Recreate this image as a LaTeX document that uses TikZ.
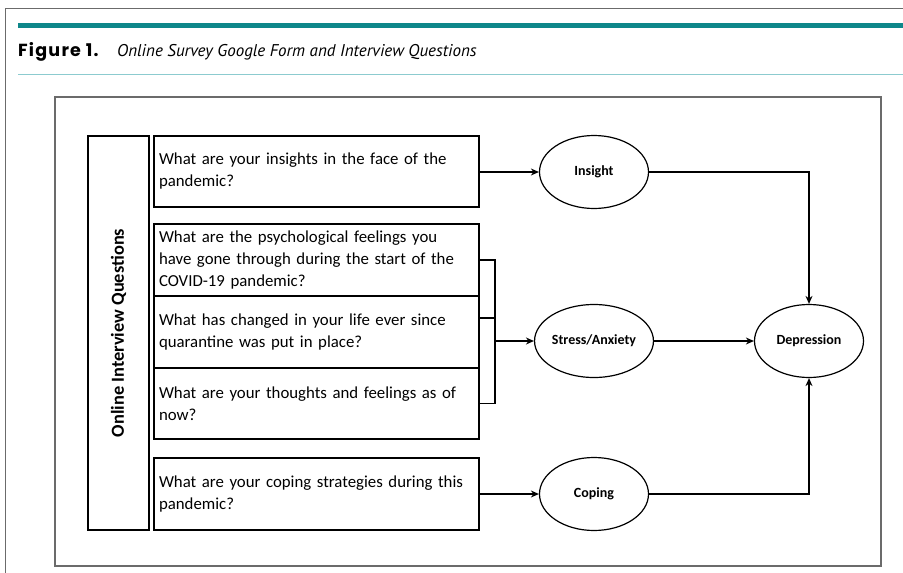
\documentclass[tikz,border=0pt]{standalone}
\usepackage{fontspec}
\setmainfont{Carlito}
\newfontfamily\titlefont{PT Sans}
\newfontfamily\figlabelfont[LetterSpace=7]{Poppins}
\usetikzlibrary{arrows.meta,positioning,calc,shapes.geometric}
\definecolor{FigTeal}{HTML}{0E878A}
\definecolor{FigTealLight}{HTML}{8CCBCF}
\definecolor{FrameGrey}{HTML}{6B6B6B}
\tikzset{
  qbox/.style={draw,line width=1.2pt,rectangle,text width=315pt,align=left,
    inner sep=5pt,font=\fontsize{16.8}{22}\selectfont},
  theme/.style={draw,ellipse,line width=1.2pt,minimum width=109pt,
    minimum height=73pt,inner sep=0pt,font=\fontsize{14}{16}\selectfont\bfseries},
  link/.style={-{Stealth[length=8pt,width=7pt]},line width=1.2pt}
}

\begin{document}
\begin{tikzpicture}[x=1pt,y=-1pt]
\useasboundingbox (0,0) rectangle (903,573);
% page frame and caption
\draw[FrameGrey,line width=1pt] (5,573) -- (5,8) -- (903,8);
\fill[FigTeal] (18,23) rectangle (903,28);
\draw[FigTealLight,line width=0.8pt] (18,74) -- (903,74);
\node[anchor=base west,inner sep=0pt,font=\figlabelfont\bfseries\fontsize{17.5}{18}\selectfont] (fignum) at (18,56) {Figure 1.};
\node[anchor=base west,inner sep=0pt,font=\titlefont\itshape\fontsize{17}{18}\selectfont] (caption) at (117,56)
  {Online Survey Google Form and Interview Questions};
\draw[FrameGrey,line width=1.4pt] (55,97) rectangle (881,566);

% questions
\node[draw,line width=1.2pt,rotate=90,minimum width=394pt,minimum height=61pt,
  font=\fontsize{18.4}{20}\selectfont\bfseries] (side) at (118.5,333) {Online Interview Questions};
\node[qbox,minimum height=71pt] (q1) at (316.5,171.5)
  {What are your insights in the face of the\\pandemic?};
\node[qbox,minimum height=72pt] (q2) at (316.5,260)
  {What are the psychological feelings you\\have gone through during the start of the\\COVID-19 pandemic?};
\node[qbox,minimum height=72pt] (q3) at (316.5,332)
  {What has changed in your life ever since\\quarantine was put in place?};
\node[qbox,minimum height=71pt] (q4) at (316.5,403.5)
  {What are your thoughts and feelings as of\\now?};
\node[qbox,minimum height=72pt] (q5) at (316.5,494)
  {What are your coping strategies during this\\pandemic?};

% themes
\node[theme] (insight) at (594,172) {Insight};
\node[theme] (stress) at (594,341) {Stress/Anxiety};
\node[theme] (coping) at (594,494) {Coping};
\node[theme] (depression) at (809,341) {Depression};

\coordinate (join) at (495,341);
\draw[line width=1.2pt] (q2.east) -- (q2.east -| join) -- (q4.east -| join) -- (q4.east);
\draw[line width=1.2pt] ([yshift=14pt]q3.east) -- ([yshift=14pt]q3.east -| join);
\draw[link,line width=2pt] (join) -- (stress);
\draw[link] (q1.east |- insight) -- (insight);
\draw[link] (q5.east |- coping) -- (coping);
\draw[link] (stress) -- (depression);
\draw[link] (insight) -| (depression);
\draw[link] (coping) -| (depression);
\end{tikzpicture}
\end{document}
